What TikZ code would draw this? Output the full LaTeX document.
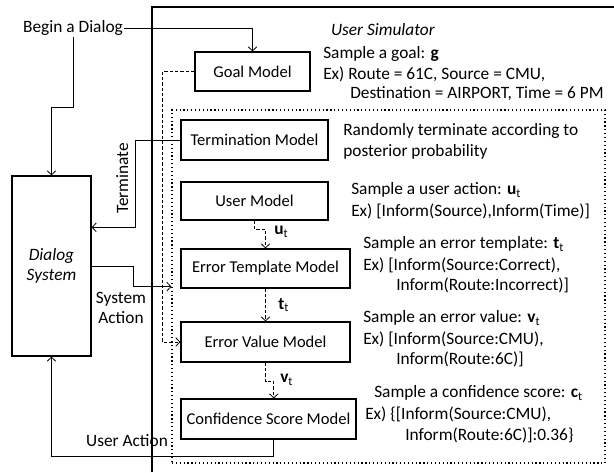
\documentclass[tikz,border=0pt]{standalone}
\usepackage{fontspec}
\setmainfont{Carlito}
\usetikzlibrary{arrows.meta}
\tikzstyle{model}=[draw,line width=1pt,inner sep=0pt,align=center,font=\fontsize{12.4}{14.6}\selectfont]
\tikzstyle{arr}=[-{Straight Barb[length=3pt,width=6.5pt]},line width=0.6pt]
\tikzstyle{darr}=[arr,dashed,dash pattern=on 2.5pt off 1.5pt]
\tikzstyle{txt}=[anchor=west,inner sep=0pt]

\begin{document}
\fontsize{13}{15.4}\selectfont
\begin{tikzpicture}[x=0.75pt,y=-0.75pt]
	\useasboundingbox (0,0) rectangle (614,472);
	% user simulator frame
	\draw[line width=1pt] (152,472) -- (152,7) -- (614,7);
	\node[inner sep=0pt] (sim) at (383,30) {\textit{User Simulator}};
	\node[draw,dotted,line width=0.9pt,minimum width=433*0.75pt,minimum height=353*0.75pt] (inner) at (388.5,286.5) {};
	% models
	\node[model,minimum width=115*0.75pt,minimum height=39*0.75pt] (goal) at (252.5,71.5) {Goal Model};
	\node[model,minimum width=147*0.75pt,minimum height=40*0.75pt] (term) at (254.5,140) {Termination Model};
	\node[model,minimum width=147*0.75pt,minimum height=38*0.75pt] (user) at (254.5,201) {User Model};
	\node[model,minimum width=169*0.75pt,minimum height=39*0.75pt] (errtpl) at (265.5,268.5) {Error Template Model};
	\node[model,minimum width=169*0.75pt,minimum height=40*0.75pt] (errval) at (265.5,342) {Error Value Model};
	\node[model,minimum width=175*0.75pt,minimum height=40*0.75pt] (conf) at (268.5,419) {Confidence Score Model};
	\node[model,font=\fontsize{13}{15}\selectfont,minimum width=79*0.75pt,minimum height=180*0.75pt] (dialog) at (51.5,266) {\textit{Dialog}\\\textit{System}};
	\node[inner sep=1pt] (begin) at (73,28) {Begin a Dialog};
	% connectors
	\draw[arr] (begin.east) -| (goal.north);
	\draw[arr] (begin.south) |- ([yshift=51pt]dialog.north) -- (dialog.north);
	\draw[arr] (term.west) -- ++(-45,0) |- ([yshift=29pt]dialog.east) node[pos=0.22,above,rotate=90,inner sep=5pt] (termlbl) {Terminate};
	\draw[arr] (dialog.east) -- ++(42,0) |- ([yshift=1.5pt]inner.west |- errtpl.south);
	\node[align=center,inner sep=0pt,font=\fontsize{13}{15}\selectfont] (syslbl) at (121,307.5) {System\\Action};
	\draw[darr] (goal.west) -- ++(-32,0) |- (errval.west);
	\draw[darr] (user.south) -- ++(0,9) -| (errtpl.north);
	\draw[darr] (errtpl.south) -- (errval.north);
	\draw[darr] (errval.south) -- ++(0,19) -| ([xshift=4pt]conf.north);
	\draw[arr] ([xshift=3.5pt]conf.south) -- ++(0,17) -| (dialog.south);
	\node[inner sep=0pt] (usrlbl) at (127,441) {User Action};
	\node[txt] (ulbl) at (274,232) {\textbf{u}\textsubscript{t}};
	\node[txt] (tlbl) at (278,305) {\textbf{t}\textsubscript{t}};
	\node[txt] (vlbl) at (280,380) {\textbf{v}\textsubscript{t}};
	% descriptions
	\node[txt] (g1) at (323,54) {Sample a goal: \textbf{g}};
	\node[txt] (g2) at (323,74) {Ex) Route = 61C, Source = CMU,};
	\node[txt] (g3) at (350,94) {Destination = AIRPORT, Time = 6 PM};
	\node[txt] (r1) at (343,131) {Randomly terminate according to};
	\node[txt] (r2) at (343,152) {posterior probability};
	\node[txt] (u1) at (351,190) {Sample a user action: \textbf{u}\textsubscript{t}};
	\node[txt] (u2) at (351,211) {Ex) [Inform(Source),Inform(Time)]};
	\node[txt] (t1) at (363,244) {Sample an error template: \textbf{t}\textsubscript{t}};
	\node[txt] (t2) at (363,265) {Ex) [Inform(Source:Correct),};
	\node[txt] (t3) at (396,285) {Inform(Route:Incorrect)]};
	\node[txt] (v1) at (363,318) {Sample an error value: \textbf{v}\textsubscript{t}};
	\node[txt] (v2) at (363,339) {Ex) [Inform(Source:CMU),};
	\node[txt] (v3) at (396,359) {Inform(Route:6C)]};
	\node[txt] (c1) at (374,393) {Sample a confidence score: \textbf{c}\textsubscript{t}};
	\node[txt] (c2) at (365,414) {Ex) \{[Inform(Source:CMU),};
	\node[txt] (c3) at (405,435) {Inform(Route:6C)]:0.36\}};
\end{tikzpicture}
\end{document}
